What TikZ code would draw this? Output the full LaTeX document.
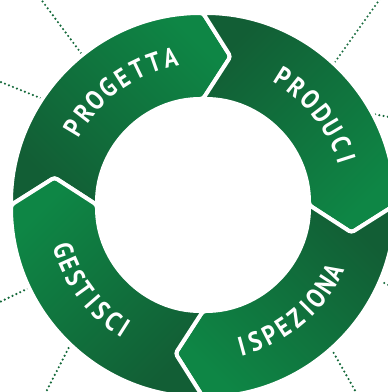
\documentclass[tikz,border=0pt]{standalone}
\usepackage{fontspec}
\newfontfamily\lblfont[FakeStretch=0.86]{PT Sans}
\usetikzlibrary{calc}
\definecolor{gdark}{RGB}{18,94,53}
\definecolor{glight}{RGB}{14,134,69}
\definecolor{gdot}{RGB}{20,105,58}
\newcommand\lblsize{\lblfont\bfseries\fontsize{27}{27}\selectfont}
\newlength\chw
\newcommand\measurech{%
  \settowidth\chw{\lblsize\ch}%
  \ifnum\strcmp{\ch}{I}=0 \addtolength\chw{-3.5pt}\fi}
% #1 name, #2 comma list of letters, #3 first-edge angle, #4 last-edge angle, #5 baseline radius, #6 direction (-1 cw, +1 ccw)
\newcommand\arcword[6]{%
  \gdef\wsum{0}\gdef\nch{0}%
  \foreach \ch in {#2}{%
    \measurech
    \pgfmathsetmacro\tmp{\wsum+\chw}\xdef\wsum{\tmp}%
    \pgfmathtruncatemacro\tmpn{\nch+1}\xdef\nch{\tmpn}%
  }%
  \pgfmathsetmacro\track{(abs(#4-#3)*pi/180*#5-\wsum)/(\nch-1)}%
  \gdef\curpos{0}%
  \foreach \ch [count=\i] in {#2}{%
    \measurech
    \pgfmathsetmacro\ang{#3+#6*deg((\curpos+\chw/2)/#5)}%
    \node[lbltxt, rotate=\ang+#6*90] (#1\i) at ($(C)+(\ang:#5)$) {\ch};
    \pgfmathsetmacro\tmp{\curpos+\chw+\track}\xdef\curpos{\tmp}%
  }%
}
\begin{document}
\begin{tikzpicture}[x=1pt,y=1pt,
  seg/.style={draw=white, line width=4pt, rounded corners=3pt, top color=glight, bottom color=gdark},
  dotline/.style={gdot, line width=2.4pt, line cap=round, dash pattern=on 0pt off 4.3pt},
  lbltxt/.style={font=\lblsize, text=white, anchor=base, inner sep=0pt}]
\useasboundingbox (0,0) rectangle (388,392);
\clip (0,0) rectangle (388,392);
\coordinate (C) at (203,187);
\def\R{192}\def\r{106}\def\m{151}\def\d{10.5}
% dotted rays
\draw[dotline] (40,394) -- (95,320);
\draw[dotline] (-3,311.5) -- (60,286);
\draw[dotline] (380,393) -- (320,309);
\draw[dotline] (392,274.5) -- (340,284);
\draw[dotline] (392,105.3) -- (340,130);
\draw[dotline] (357,-2) -- (315,72);
\draw[dotline] (45,-2) -- (85,76);
\draw[dotline] (-3,88.6) -- (60,119);
% ring segments
\foreach \s/\sa in {180/-45, 90/-135, 0/135, -90/45}{
  \pgfmathsetmacro\e{\s-90}
  \shadedraw[seg, shading angle=\sa]
    ($(C)+(\s:\R)$) arc[start angle=\s, end angle=\e, radius=\R]
    -- ($(C)+({\e-\d}:\m)$) -- ($(C)+(\e:\r)$)
    arc[start angle=\e, end angle=\s, radius=\r]
    -- ($(C)+({\s-\d}:\m)$) -- cycle;
}
% labels
\arcword{progetta}{P,R,O,G,E,T,T,A}{149}{102.5}{141}{-1}
\arcword{produci}{P,R,O,D,U,C,I}{58}{18.5}{141}{-1}
\arcword{ispeziona}{I,S,P,E,Z,I,O,N,A}{-74}{-27}{156}{1}
\arcword{gestisci}{G,E,S,T,I,S,C,I}{198}{237}{156}{1}
\end{tikzpicture}
\end{document}
